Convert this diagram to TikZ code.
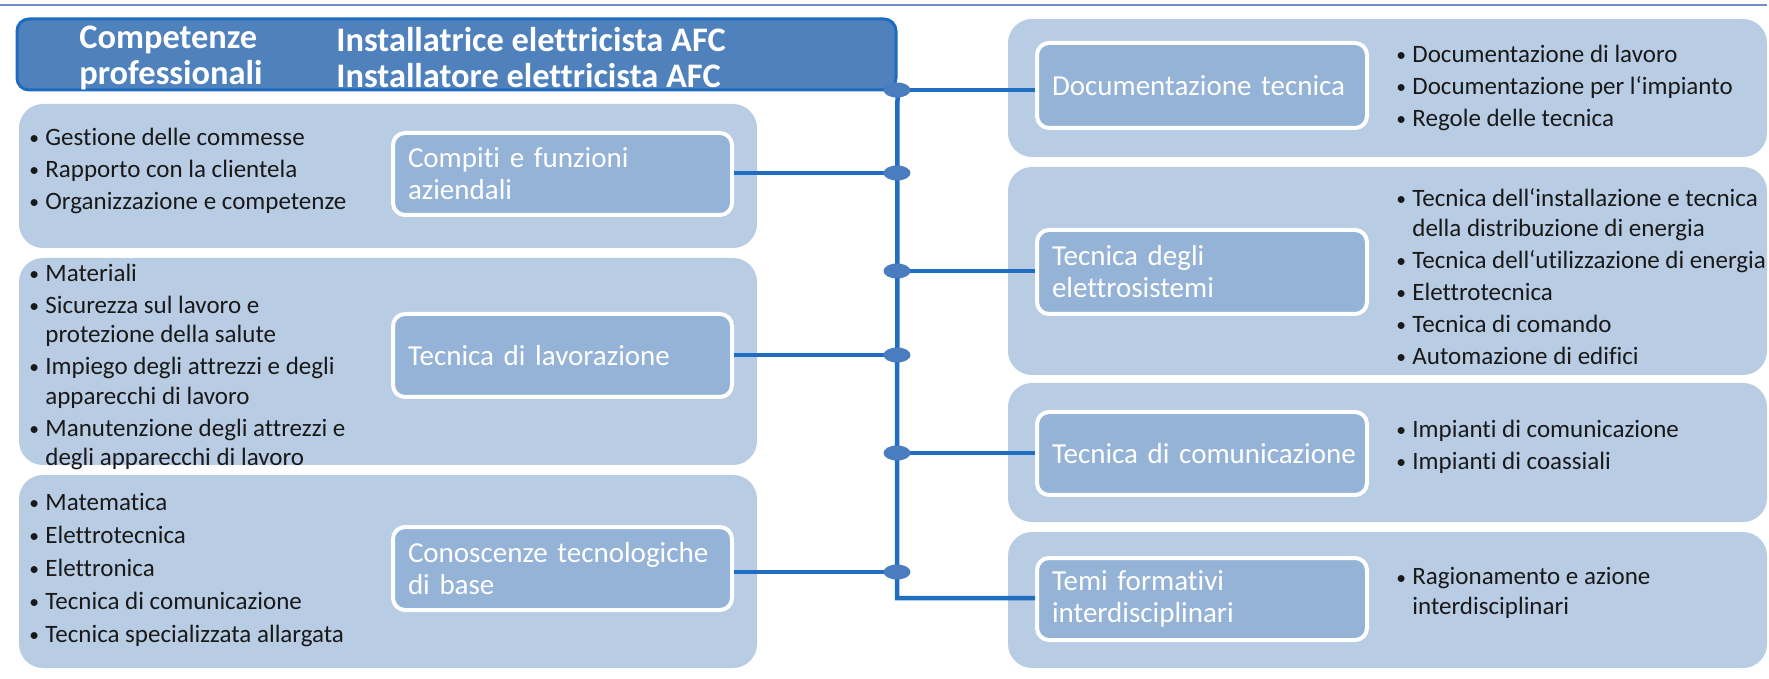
\documentclass[tikz,border=0pt]{standalone}
\usepackage{fontspec}
\usepackage{graphicx}
\setmainfont{Carlito}[Ligatures=NoCommon]
\usetikzlibrary{shapes.geometric}
\definecolor{grpc}{HTML}{B8CCE4}
\definecolor{boxc}{HTML}{95B3D7}
\definecolor{hdrc}{HTML}{4F81BD}
\definecolor{hdrb}{HTML}{1F6BBF}
\definecolor{linec}{HTML}{1F6EC1}
\definecolor{dotc}{HTML}{4A7DBF}
\definecolor{topc}{HTML}{6C8FC9}
\newcommand{\itm}{\makebox[9.5pt][l]{\hspace{1.5pt}\raisebox{0.4pt}{\scalebox{0.78}{\textbullet}}}}
\newcommand{\cnt}{\hspace*{9.5pt}}
\begin{document}
\begin{tikzpicture}[x=0.5pt,y=-0.5pt,
  grp/.style={fill=grpc, rounded corners=12pt, inner sep=0pt},
  inbox/.style={fill=boxc, draw=white, line width=2pt, rounded corners=6pt,
    text=white, align=left, inner xsep=7.5pt, inner ysep=0pt,
    font=\fontsize{14.5}{16}\selectfont},
  blist/.style={anchor=west, align=left, inner sep=0pt, text=black!90,
    font=\fontsize{12.5}{14.75}\selectfont},
  hdr/.style={fill=hdrc, draw=hdrb, line width=1.5pt, rounded corners=6pt, inner sep=0pt},
  htext/.style={anchor=west, align=left, inner sep=0pt, text=white,
    font=\bfseries\fontsize{17.2}{18}\selectfont},
  conn/.style={draw=linec, line width=2.25pt},
  jdot/.style={ellipse, fill=dotc, minimum width=13.5pt, minimum height=7.5pt, inner sep=0pt}]
\useasboundingbox (0,0) rectangle (1769,679);
\fill[white] (0,0) rectangle (1769,679);
% top rule
\coordinate (tl) at (0,5);
\coordinate (tr) at (1767,5);
\draw[topc, line width=1.2pt] (tl) -- (tr);
% header
\node[hdr, minimum width=439.5pt, minimum height=35.5pt] (hdr) at (456.5,54.5) {};
\node[htext] (hl) at (79,57.5) {Competenze\\professionali};
\node[htext] (hr) at (336,57.5) {Installatrice elettricista AFC\\Installatore elettricista AFC};
% left groups
\node[grp, minimum width=369pt, minimum height=72pt] (g1) at (388,176) {};
\node[grp, minimum width=369pt, minimum height=103.5pt] (g2) at (388,361.5) {};
\node[grp, minimum width=369pt, minimum height=96.5pt] (g3) at (388,571.5) {};
% right groups
\node[grp, minimum width=379.5pt, minimum height=69pt] (r1) at (1387.5,88) {};
\node[grp, minimum width=379.5pt, minimum height=104pt] (r2) at (1387.5,271) {};
\node[grp, minimum width=379.5pt, minimum height=69.5pt] (r3) at (1387.5,452.5) {};
\node[grp, minimum width=379.5pt, minimum height=68pt] (r4) at (1387.5,600) {};
% left inner boxes
\node[inbox, text width=154.5pt, minimum height=41pt] (i1) at (562.5,174) {\mbox{Compiti e funzioni}\\\mbox{aziendali}};
\node[inbox, text width=154.5pt, minimum height=41.5pt] (i2) at (562.5,355.5) {\mbox{Tecnica di lavorazione}};
\node[inbox, text width=154.5pt, minimum height=41.5pt] (i3) at (562.5,568.5) {\mbox{Conoscenze tecnologiche}\\\mbox{di base}};
% right inner boxes
\node[inbox, text width=150pt, minimum height=42.5pt] (j1) at (1202,85.5) {\mbox{Documentazione tecnica}};
\node[inbox, text width=150pt, minimum height=42pt] (j2) at (1202,272) {\mbox{Tecnica degli}\\\mbox{elettrosistemi}};
\node[inbox, text width=150pt, minimum height=41.5pt] (j3) at (1202,453.5) {\mbox{Tecnica di comunicazione}};
\node[inbox, text width=150pt, minimum height=41pt] (j4) at (1202,599) {\mbox{Temi formativi}\\\mbox{interdisciplinari}};
% bullet lists left
\node[blist] (l1) at (26,170.5) {\itm Gestione delle commesse\\[1.25pt]\itm Rapporto con la clientela\\[1.25pt]\itm Organizzazione e competenze};
\node[blist] (l2) at (26,367) {\itm Materiali\\[1.25pt]\itm Sicurezza sul lavoro e\\\cnt protezione della salute\\[1.25pt]\itm Impiego degli attrezzi e degli\\\cnt apparecchi di lavoro\\[1.25pt]\itm Manutenzione degli attrezzi e\\\cnt degli apparecchi di lavoro};
\node[blist] (l3) at (26,570) {\itm Matematica\\[1.75pt]\itm Elettrotecnica\\[1.75pt]\itm Elettronica\\[1.75pt]\itm Tecnica di comunicazione\\[1.75pt]\itm Tecnica specializzata allargata};
% bullet lists right
\node[blist] (m1) at (1393,87.5) {\itm Documentazione di lavoro\\[1.25pt]\itm Documentazione per l‘impianto\\[1.25pt]\itm Regole delle tecnica};
\node[blist] (m2) at (1393,276.5) {\itm Tecnica dell‘installazione e tecnica\\\cnt della distribuzione di energia\\[1.25pt]\itm Tecnica dell‘utilizzazione di energia\\[1.25pt]\itm Elettrotecnica\\[1.25pt]\itm Tecnica di comando\\[1.25pt]\itm Automazione di edifici};
\node[blist] (m3) at (1393,446.5) {\itm Impianti di comunicazione\\[1.25pt]\itm Impianti di coassiali};
\node[blist] (m4) at (1393,593) {\itm Ragionamento e azione\\\cnt interdisciplinari};
% spine coordinates and junctions
\coordinate (top) at (897,90);
\coordinate (bot) at (897,598);
\path (897,90) coordinate (p1) (897,173) coordinate (p2) (897,271) coordinate (p3)
      (897,355) coordinate (p4) (897,453) coordinate (p5) (897,572) coordinate (p6);
\draw[conn] ([yshift=-1pt]hdr.south east) -- (bot) -- (bot -| j4.west);
\draw[conn] (p1) -- (p1 -| j1.west);
\draw[conn] (i1.east |- p2) -- (p2);
\draw[conn] (p3) -- (p3 -| j2.west);
\draw[conn] (i2.east |- p4) -- (p4);
\draw[conn] (p5) -- (p5 -| j3.west);
\draw[conn] (i3.east |- p6) -- (p6);
\node[jdot] (d1) at (p1) {};
\node[jdot] (d2) at (p2) {};
\node[jdot] (d3) at (p3) {};
\node[jdot] (d4) at (p4) {};
\node[jdot] (d5) at (p5) {};
\node[jdot] (d6) at (p6) {};
\end{tikzpicture}
\end{document}
